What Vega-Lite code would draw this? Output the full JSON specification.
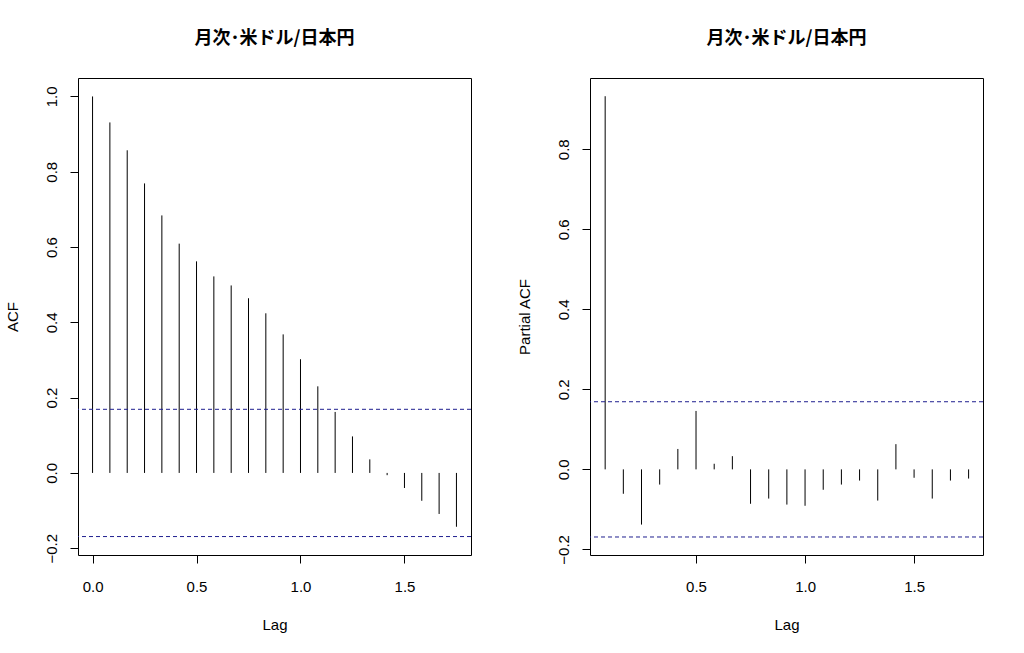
{
  "$schema": "https://vega.github.io/schema/vega-lite/v6.json",
  "background": "white",
  "padding": {"left": 4, "top": 29, "right": 5, "bottom": 5},
  "bounds": "flush",
  "spacing": 119,
  "datasets": {
    "acf": [
      {"lag": 0.0, "value": 1.0},
      {"lag": 0.08333, "value": 0.931},
      {"lag": 0.16667, "value": 0.857},
      {"lag": 0.25, "value": 0.769},
      {"lag": 0.33333, "value": 0.684},
      {"lag": 0.41667, "value": 0.609},
      {"lag": 0.5, "value": 0.562},
      {"lag": 0.58333, "value": 0.522},
      {"lag": 0.66667, "value": 0.498},
      {"lag": 0.75, "value": 0.464},
      {"lag": 0.83333, "value": 0.424},
      {"lag": 0.91667, "value": 0.368},
      {"lag": 1.0, "value": 0.302},
      {"lag": 1.08333, "value": 0.23},
      {"lag": 1.16667, "value": 0.162},
      {"lag": 1.25, "value": 0.097},
      {"lag": 1.33333, "value": 0.036},
      {"lag": 1.41667, "value": -0.006},
      {"lag": 1.5, "value": -0.04},
      {"lag": 1.58333, "value": -0.074},
      {"lag": 1.66667, "value": -0.109},
      {"lag": 1.75, "value": -0.143}
    ],
    "pacf": [
      {"lag": 0.08333, "value": 0.9325},
      {"lag": 0.16667, "value": -0.061},
      {"lag": 0.25, "value": -0.138},
      {"lag": 0.33333, "value": -0.038},
      {"lag": 0.41667, "value": 0.051},
      {"lag": 0.5, "value": 0.146},
      {"lag": 0.58333, "value": 0.014},
      {"lag": 0.66667, "value": 0.033},
      {"lag": 0.75, "value": -0.086},
      {"lag": 0.83333, "value": -0.073},
      {"lag": 0.91667, "value": -0.088},
      {"lag": 1.0, "value": -0.091},
      {"lag": 1.08333, "value": -0.051},
      {"lag": 1.16667, "value": -0.038},
      {"lag": 1.25, "value": -0.028},
      {"lag": 1.33333, "value": -0.078},
      {"lag": 1.41667, "value": 0.063},
      {"lag": 1.5, "value": -0.021},
      {"lag": 1.58333, "value": -0.073},
      {"lag": 1.66667, "value": -0.028},
      {"lag": 1.75, "value": -0.023}
    ]
  },
  "hconcat": [
    {
      "width": 393,
      "height": 477,
      "title": "月次･米ドル/日本円",
      "layer": [
        {
          "data": {"name": "acf"},
          "mark": {"type": "rule", "color": "black", "strokeWidth": 1},
          "encoding": {
            "x": {
              "field": "lag",
              "type": "quantitative",
              "title": "Lag",
              "scale": {"domain": [-0.07, 1.82], "nice": false, "zero": false},
              "axis": {"values": [0, 0.5, 1, 1.5], "format": ".1f"}
            },
            "y": {
              "field": "value",
              "type": "quantitative",
              "title": "ACF",
              "scale": {"domain": [-0.218, 1.049], "nice": false},
              "axis": {"values": [-0.2, 0, 0.2, 0.4, 0.6, 0.8, 1.0], "format": ".1f"}
            },
            "y2": {"datum": 0}
          }
        },
        {
          "mark": {"type": "rule", "color": "black", "strokeWidth": 1},
          "encoding": {"y": {"datum": 0}}
        },
        {
          "data": {"values": [{"ci": 0.169}, {"ci": -0.169}]},
          "mark": {"type": "rule", "color": "#1f1f8f", "strokeWidth": 1, "strokeDash": [4, 3]},
          "encoding": {"y": {"field": "ci", "type": "quantitative"}}
        }
      ]
    },
    {
      "width": 393,
      "height": 477,
      "title": "月次･米ドル/日本円",
      "layer": [
        {
          "data": {"name": "pacf"},
          "mark": {"type": "rule", "color": "black", "strokeWidth": 1},
          "encoding": {
            "x": {
              "field": "lag",
              "type": "quantitative",
              "title": "Lag",
              "scale": {"domain": [0.0138, 1.816], "nice": false, "zero": false},
              "axis": {"values": [0.5, 1, 1.5], "format": ".1f"}
            },
            "y": {
              "field": "value",
              "type": "quantitative",
              "title": "Partial ACF",
              "scale": {"domain": [-0.214, 0.978], "nice": false},
              "axis": {"values": [-0.2, 0, 0.2, 0.4, 0.6, 0.8], "format": ".1f"}
            },
            "y2": {"datum": 0}
          }
        },
        {
          "mark": {"type": "rule", "color": "black", "strokeWidth": 1},
          "encoding": {"y": {"datum": 0}}
        },
        {
          "data": {"values": [{"ci": 0.169}, {"ci": -0.169}]},
          "mark": {"type": "rule", "color": "#1f1f8f", "strokeWidth": 1, "strokeDash": [4, 3]},
          "encoding": {"y": {"field": "ci", "type": "quantitative"}}
        }
      ]
    }
  ],
  "config": {
    "font": "Liberation Sans",
    "view": {"stroke": "black", "strokeWidth": 1},
    "title": {
      "font": "Noto Sans CJK JP",
      "fontSize": 18,
      "fontWeight": "bold",
      "color": "black",
      "anchor": "middle",
      "offset": 30
    },
    "axis": {
      "domain": false,
      "grid": false,
      "ticks": true,
      "tickColor": "black",
      "tickSize": 8,
      "tickWidth": 1,
      "labelColor": "black",
      "labelFontSize": 15,
      "labelFont": "Liberation Sans",
      "titleFont": "Liberation Sans",
      "titleFontSize": 15,
      "titleFontWeight": "normal",
      "titleColor": "black"
    },
    "axisX": {"labelPadding": 16, "titlePadding": 23},
    "axisY": {
      "labelAngle": -90,
      "labelAlign": "center",
      "labelBaseline": "bottom",
      "labelPadding": 11,
      "titlePadding": 24
    }
  }
}
